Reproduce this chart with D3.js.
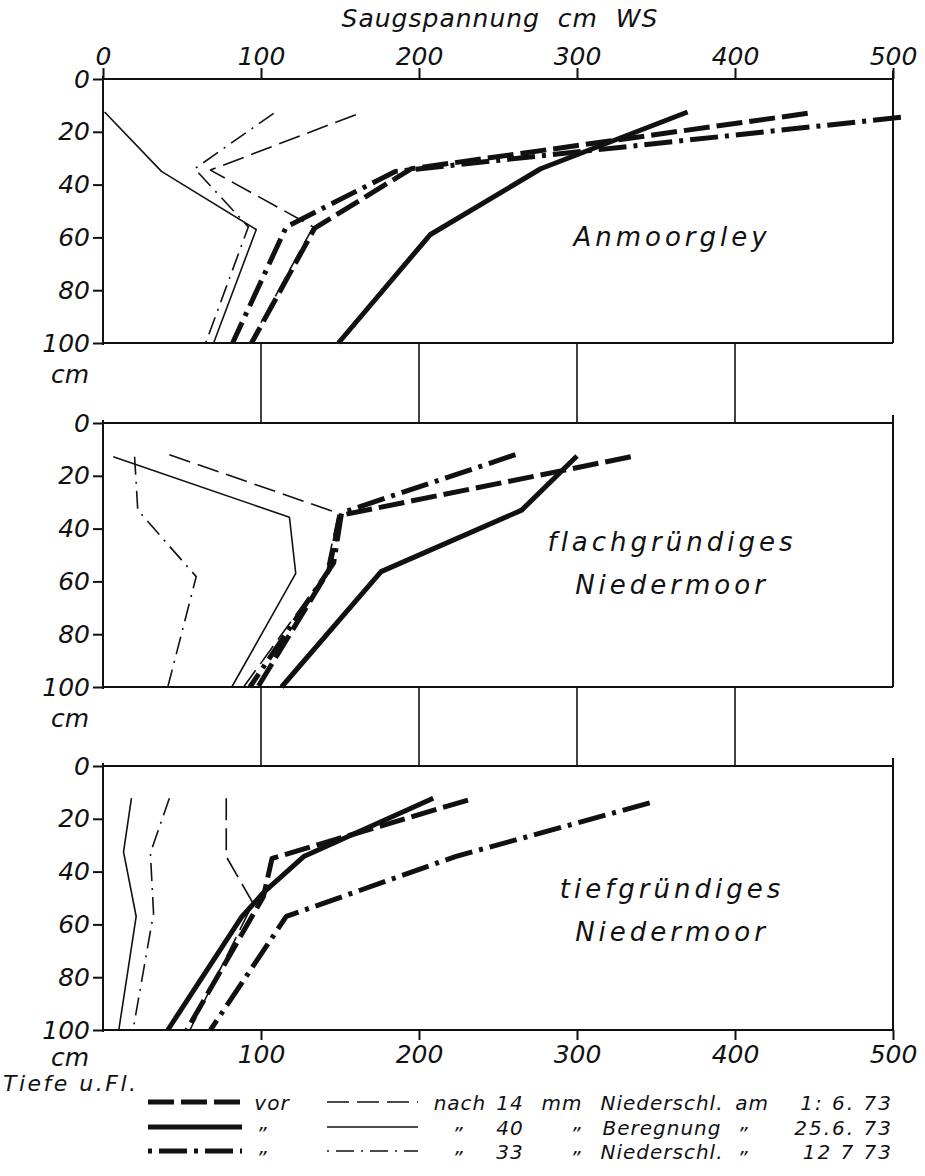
<!DOCTYPE html>
<html>
<head>
<meta charset="utf-8">
<script src="https://cdn.jsdelivr.net/npm/d3@7"></script>
<style>
  body { margin: 0; background: #fff; }
  text { font-family: "DejaVu Sans", sans-serif; font-style: italic; fill: #111; }
  .tick text { font-size: 25px; }
</style>
</head>
<body>
<svg id="chart" width="925" height="1176"></svg>
<script>
// axis ticks
const suctionTicks = [0, 100, 200, 300, 400, 500];
const bottomTicks = [100, 200, 300, 400, 500];
const depthTicks = [0, 20, 40, 60, 80, 100];
const gapTicks = [100, 200, 300, 400];

const panelNames = [["Anmoorgley"], ["flachgründiges", "Niedermoor"], ["tiefgründiges", "Niedermoor"]];

// each point: [depth cm, suction cm WS]
const anmoorVor14 = [[13, 446], [34, 195], [56.5, 134], [100, 94]];
const anmoorVor40 = [[12.5, 370], [34, 277], [59, 207], [100, 149]];
const anmoorVor33 = [[14.5, 505], [35, 185], [56, 116], [100, 82]];
const anmoorNach14 = [[13.5, 160], [34.5, 68], [56, 133], [100, 93]];
const anmoorNach40 = [[12.5, 1], [35, 37], [57, 97], [100, 70]];
const anmoorNach33 = [[13, 108], [34, 58], [56, 92], [100, 65]];

const flachVor14 = [[12.8, 334], [35, 150], [55.7, 143], [100, 98]];
const flachVor40 = [[12.5, 300], [33, 265], [56.3, 176], [100, 113]];
const flachVor33 = [[12, 261], [34, 151], [53, 146], [100, 93]];
const flachNach14 = [[12, 42], [34.2, 149], [57, 141], [100, 89]];
const flachNach40 = [[12.8, 6.5], [35.7, 118], [57, 122], [100, 81.5]];
const flachNach33 = [[12.8, 20], [33, 22], [58.2, 59], [100, 41]];

const tiefVor14 = [[12.9, 231], [35, 107], [49.5, 101.5], [100, 53]];
const tiefVor40 = [[12.2, 209], [34.3, 127], [48, 101.5], [57, 88], [100, 41]];
const tiefVor33 = [[14, 346], [34.3, 223], [57, 116], [100, 68]];
const tiefNach14 = [[12.2, 78], [34.3, 78], [52, 95], [100, 55]];
const tiefNach40 = [[12.2, 18], [32.5, 13], [57, 21], [100, 10]];
const tiefNach33 = [[12.2, 42], [33, 30], [55.8, 32], [100, 19]];

const seriesKeys = ["nach14", "nach40", "nach33", "vor14", "vor40", "vor33"];
const ditto = "\u201D";
const legendLabels = [
  ["vor", "nach", "14", "mm", "Niederschl.", "am", "1: 6. 73"],
  [ditto, ditto, "40", ditto, "Beregnung", ditto, "25.6. 73"],
  [ditto, ditto, "33", ditto, "Niederschl.", ditto, "12 7 73"]
];

const panels = [
  {vor14: anmoorVor14, vor40: anmoorVor40, vor33: anmoorVor33, nach14: anmoorNach14, nach40: anmoorNach40, nach33: anmoorNach33},
  {vor14: flachVor14, vor40: flachVor40, vor33: flachVor33, nach14: flachNach14, nach40: flachNach40, nach33: flachNach33},
  {vor14: tiefVor14, vor40: tiefVor40, vor33: tiefVor33, nach14: tiefNach14, nach40: tiefNach40, nach33: tiefNach33}
];

const seriesStyle = {
  vor14: {width: 5, dash: "26,7", legendOffset: 0},
  vor40: {width: 5, dash: null, legendOffset: 0},
  vor33: {width: 5, dash: "28,7,4,7", legendOffset: 35},
  nach14: {width: 1.6, dash: "22,8", legendOffset: 0},
  nach40: {width: 1.6, dash: null, legendOffset: 0},
  nach33: {width: 1.6, dash: "18,7,2,7", legendOffset: 25}
};

const ink = "#111";
const panelTops = [79, 423, 766];
const panelHeight = 264;
const left = 103, right = 893;

const svg = d3.select("#chart");
const x = d3.scaleLinear().domain([0, 500]).range([left, right]);

function styleAxis(g) {
  g.select(".domain").remove();
  g.selectAll(".tick line").attr("stroke", ink).attr("stroke-width", 2);
  g.attr("font-family", null).attr("font-size", null);
}

// title + top axis
svg.append("text")
  .attr("x", 500).attr("y", 27)
  .attr("text-anchor", "middle")
  .style("font-size", "25px")
  .style("letter-spacing", "1px")
  .style("white-space", "pre")
  .text("Saugspannung  cm  WS");

svg.append("g")
  .attr("transform", "translate(0," + panelTops[0] + ")")
  .call(d3.axisTop(x).tickValues(suctionTicks).tickSize(11).tickPadding(3))
  .call(styleAxis);

panels.forEach(function(panel, i) {
  const top = panelTops[i];
  const y = d3.scaleLinear().domain([0, 100]).range([top, top + panelHeight]);

  svg.append("g")
    .attr("transform", "translate(" + left + ",0)")
    .call(d3.axisLeft(y).tickValues(depthTicks).tickSize(10).tickPadding(3))
    .call(styleAxis);

  // frame
  svg.append("path")
    .attr("d", "M" + left + "," + top + "H" + right +
               "M" + left + "," + (top + panelHeight) + "H" + right +
               "M" + left + "," + (top - 3) + "V" + (top + panelHeight + 2) +
               "M" + right + "," + (top - 8) + "V" + (top + panelHeight))
    .attr("fill", "none").attr("stroke", ink).attr("stroke-width", 2);

  // verticals bridging to next panel
  if (i < panels.length - 1) {
    svg.append("g").selectAll("line")
      .data(gapTicks)
      .enter().append("line")
      .attr("x1", d => x(d)).attr("x2", d => x(d))
      .attr("y1", top + panelHeight).attr("y2", panelTops[i + 1])
      .attr("stroke", ink).attr("stroke-width", 1.6);

    svg.append("text")
      .attr("x", 89).attr("y", top + panelHeight + 40)
      .attr("text-anchor", "end")
      .style("font-size", "25px")
      .text("cm");
  }

  const line = d3.line()
    .x(d => x(d[1]))
    .y(d => y(d[0]));

  seriesKeys.forEach(function(key) {
    svg.append("path")
      .attr("d", line(panel[key]))
      .attr("fill", "none")
      .attr("stroke", ink)
      .attr("stroke-width", seriesStyle[key].width)
      .attr("stroke-dasharray", seriesStyle[key].dash)
      .attr("stroke-linejoin", "round");
  });

  // panel name
  const name = panelNames[i];
  const nameY = i === 0 ? [246] : (i === 1 ? [551, 594] : [898, 941]);
  name.forEach(function(t, k) {
    svg.append("text")
      .attr("x", 672).attr("y", nameY[k])
      .attr("text-anchor", "middle")
      .style("font-size", "26px")
      .style("letter-spacing", "4px")
      .text(t);
  });
});

// bottom axis
svg.append("g")
  .attr("transform", "translate(0," + (panelTops[2] + panelHeight) + ")")
  .call(d3.axisBottom(x).tickValues(bottomTicks).tickSize(10).tickPadding(5))
  .call(styleAxis);

svg.append("text")
  .attr("x", 89).attr("y", 1066)
  .attr("text-anchor", "end")
  .style("font-size", "25px")
  .text("cm");

svg.append("text")
  .attr("x", 3).attr("y", 1091)
  .style("font-size", "22px")
  .style("letter-spacing", "2.5px")
  .text("Tiefe u.Fl.");

// legend
const legendRowY = [1102, 1127, 1151];
const legendColX = [272, 460, 510, 562, 662, 752];
const dittoX = [262, 458, 510, 576, 662, 743];
const thickKeys = ["vor14", "vor40", "vor33"];
const thinKeys = ["nach14", "nach40", "nach33"];

legendLabels.forEach(function(row, r) {
  const ly = legendRowY[r];
  const thick = seriesStyle[thickKeys[r]], thin = seriesStyle[thinKeys[r]];
  svg.append("line")
    .attr("x1", 148).attr("x2", 242).attr("y1", ly).attr("y2", ly)
    .attr("stroke", ink).attr("stroke-width", 5)
    .attr("stroke-dasharray", thick.dash)
    .attr("stroke-dashoffset", thick.legendOffset);
  svg.append("line")
    .attr("x1", 327).attr("x2", 418).attr("y1", ly).attr("y2", ly)
    .attr("stroke", ink).attr("stroke-width", 1.6)
    .attr("stroke-dasharray", thin.dash)
    .attr("stroke-dashoffset", thin.legendOffset);

  row.forEach(function(label, c) {
    const last = c === row.length - 1;
    const isDitto = label === ditto;
    svg.append("text")
      .attr("x", last ? 893 : (isDitto ? dittoX[c] : legendColX[c]))
      .attr("y", ly + 8 + (isDitto ? 6 : 0))
      .attr("text-anchor", last ? "end" : "middle")
      .style("font-size", "20px")
      .style("letter-spacing", last ? "2px" : "1px")
      .text(label);
  });
});
</script>
</body>
</html>
